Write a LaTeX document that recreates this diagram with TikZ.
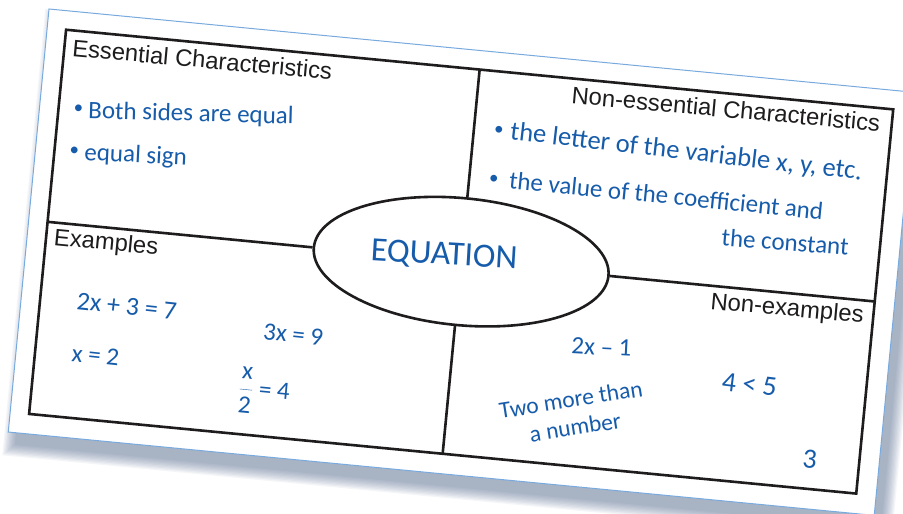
\documentclass[tikz,border=0pt]{standalone}
\usepackage{fontspec}
\setmainfont{Liberation Sans}
\newfontfamily\handfont{Carlito}
\usetikzlibrary{shapes.geometric}
\definecolor{inkblue}{RGB}{22,92,170}
\definecolor{cardline}{RGB}{120,170,222}
\definecolor{shadowc}{RGB}{70,95,135}
\definecolor{frameblack}{RGB}{30,28,28}
\begin{document}
\begin{tikzpicture}[x=1pt,y=-1pt,
  header/.style={text=frameblack, font=\fontsize{23.8}{28}\selectfont, inner sep=0pt},
  hand/.style={text=inkblue, font=\handfont\fontsize{25}{28}\selectfont, inner sep=0pt},
  bigger/.style={font=\handfont\fontsize{#1}{28}\selectfont},
  dot/.style={text=inkblue, font=\handfont\fontsize{19}{22}\selectfont, inner sep=0pt, anchor=base},
  framel/.style={draw=frameblack, line width=2.6pt},
]
\useasboundingbox (0,0) rectangle (903,514);
\clip (0,0) rectangle (903,514);
\fill[white] (0,0) rectangle (903,514);
\begin{scope}[shift={(49,9)}, rotate=-5.5, transform shape]
  \foreach \k in {0,...,9}
    \fill[shadowc, opacity=0.06] (8-1.3*\k, 12-1.3*\k) rectangle (878+1.3*\k, 437+1.3*\k);
  \draw[cardline, fill=white, line width=1pt] (0,0) rectangle (870,425);
  \draw[framel] (19,19) rectangle (850,405);
  \coordinate (ftop) at (434.5,19);
  \coordinate (fbot) at (434.5,405);
  \coordinate (fleft) at (19,212);
  \coordinate (fright) at (850,212);
  \node[ellipse, draw=frameblack, line width=2.6pt, fill=white,
        minimum width=296pt, minimum height=127pt, inner sep=0pt] (eq) at (434.5,212) {};
  \draw[framel] (ftop) -- (eq.north);
  \draw[framel] (eq.south) -- (fbot);
  \draw[framel] (fleft) -- (eq.west);
  \draw[framel] (eq.east) -- (fright);
\end{scope}

% headers
\node[header, anchor=base west, rotate=-5.2] (hEss) at (71.6,56) {Essential Characteristics};
\node[header, anchor=base west, rotate=-5.2] (hNon) at (570.9,103.3) {Non-essential Characteristics};
\node[header, anchor=base west, rotate=-5.5] (hEx) at (53.3,245) {Examples};
\node[header, anchor=base west, rotate=-5.2] (hNex) at (709.9,309) {Non-examples};

% essential characteristics
\node[dot, rotate=-1.6] (d1) at (78.3,113.6) {•};
\node[hand, anchor=base west, rotate=-1.6] (e1) at (88,118.3) {Both sides are equal};
\node[dot, rotate=-2.9] (d2) at (74,156) {•};
\node[hand, anchor=base west, rotate=-2.9] (e2) at (84,160) {equal sign};

% non-essential
\node[dot, rotate=-6.6] (d3) at (498.3,135.3) {•};
\node[hand, bigger=26.5, anchor=base west, rotate=-6.6] (n1) at (509.5,139.3) {the letter of the variable x, y, etc.};
\node[dot, rotate=-5.7] (d4) at (493.3,183.6) {•};
\node[hand, anchor=base west, rotate=-5.7] (n2) at (508.3,188.3) {the value of the coefficient and};
\node[hand, anchor=base west, rotate=-4.5] (n3) at (721,245.5) {the constant};

% centre
\node[hand, bigger=34, anchor=base, rotate=-3.4] (eqt) at (443.5,264.5) {EQUATION};

% examples
\node[hand, bigger=26, anchor=base west, rotate=-6] (x1) at (76,309.5) {2x + 3 = 7};
\node[hand, anchor=base west, rotate=-6] (x2) at (262.5,339.3) {3x = 9};
\node[hand, anchor=base west, rotate=-6] (x3) at (71,361) {x = 2};
\node[hand, anchor=center, rotate=-5.5] (x4) at (264,391.7) {$\displaystyle\frac{\hbox{x}}{\hbox{2}}$ = 4};

% non-examples
\node[hand, anchor=base west, rotate=-3] (y1) at (571,353.5) {2x – 1};
\node[hand, bigger=28, anchor=base west, rotate=-7] (y2) at (721,390) {4 < 5};
\node[hand, bigger=23.5, anchor=center, align=center, rotate=9] (y3) at (573,413.3) {Two more than\\a number};
\node[hand, bigger=28, anchor=base, rotate=-5.5] (y4) at (809,468.3) {3};
\end{tikzpicture}
\end{document}
